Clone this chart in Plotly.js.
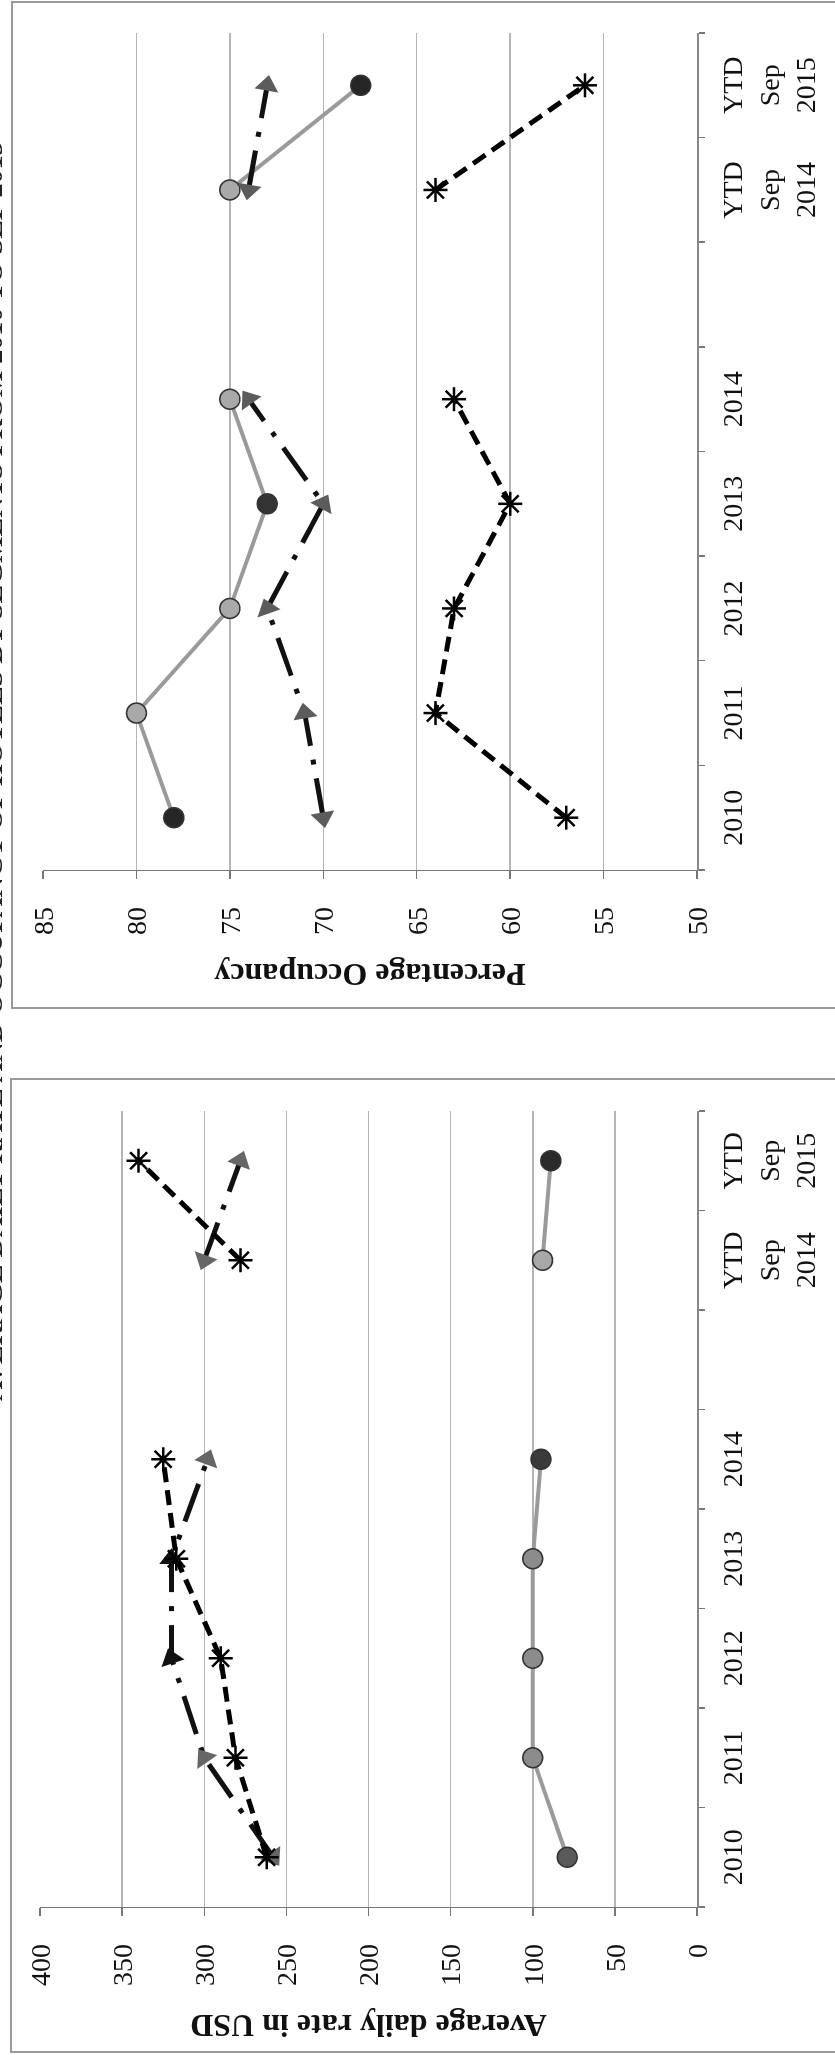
<!DOCTYPE html>
<html>
<head>
<meta charset="utf-8">
<script src="https://cdn.plot.ly/plotly-3.0.1.min.js"></script>
<style>
html,body{margin:0;padding:0;background:#fff;overflow:hidden;width:835px;height:2055px;}
#wrap{position:absolute;left:0;top:0;width:835px;height:2055px;overflow:hidden;background:#fff;}
#chart{position:absolute;left:0;top:0;width:2055px;height:835px;transform-origin:0 0;transform:translateY(2055px) rotate(-90deg);will-change:transform;-webkit-font-smoothing:antialiased;}
</style>
</head>
<body>
<div id="wrap"><div id="chart"></div></div>
<script>
// ---- data ----
const categories = ['2010','2011','2012','2013','2014','gap','YTD Sep 2014','YTD Sep 2015'];
const tickLabels = ['2010','2011','2012','2013','2014','','YTD<br>Sep<br>2014','YTD<br>Sep<br>2015'];

// Average daily rate (USD)
const adrCircle   = [79, 100, 100, 100, 95, null, 94, 89];
const adrTriangle = [258, 300, 320, 320, 298, null, 300, 278];
const adrStar     = [262, 281, 290, 317, 325, null, 278, 340];

// Percentage occupancy
const occCircle   = [78, 80, 75, 73, 75, null, 75, 68];
const occTriangle = [70, 71, 73, 70, 74, null, 74, 73];
const occStar     = [57, 64, 63, 60, 63, null, 64, 56];

const adrTitle = 'Average daily rate in USD';
const occTitle = 'Percentage Occupancy';
const pageTitle = 'AVERAGE DAILY RATE AND OCCUPANCY OF HOTELS BY SEGMENTS FROM 2010 TO SEP 2015';

// ---- styles ----
const adrCircleColors = ['#5a5a5a','#8c8c8c','#8c8c8c','#8c8c8c','#3a3a3a',null,'#a8a8a8','#2a2a2a'];
const occCircleColors = ['#262626','#a9a9a9','#a9a9a9','#333333','#a9a9a9',null,'#a9a9a9','#262626'];
const adrTriColors = ['#666','#666','#111','#111','#666',null,'#666','#666'];
const occTriColors = ['#5c5c5c','#5c5c5c','#5c5c5c','#5c5c5c','#5c5c5c',null,'#5c5c5c','#5c5c5c'];
// arrow heads that start a line segment have no previous point: give them a fixed heading
const segStart = [true, false, false, false, false, false, true, false];
const adrStartAngles = [-125, 0, 0, 0, 0, 0, -70, 0];
const occStartAngles = [-100, 0, 0, 0, 0, 0, -80, 0];

function circleTrace(y, colors, xa, ya){
  return {x: categories, y: y, xaxis: xa, yaxis: ya, type:'scatter', mode:'lines+markers', connectgaps:false,
    line:{color:'#9a9a9a', width:4},
    marker:{symbol:'circle', size:20, color:colors, line:{color:'#333', width:1.5}}};
}
function triTrace(y, colors, xa, ya){
  return {x: categories, y: y, xaxis: xa, yaxis: ya, type:'scatter', mode:'lines+markers', connectgaps:false,
    line:{color:'#111', width:5, dash:'40px,14px,5px,14px'},
    marker:{symbol:'triangle-up', size:21, color:colors, angleref:'previous', line:{width:0}}};
}
function triStartTrace(y, colors, angles, xa, ya){
  return {x: categories, y: y.map((v, i) => segStart[i] ? v : null), xaxis: xa, yaxis: ya,
    type:'scatter', mode:'markers',
    marker:{symbol:'triangle-up', size:21, color:colors, angleref:'up', angle:angles, line:{width:0}}};
}
function starTrace(y, xa, ya){
  return {x: categories, y: y, xaxis: xa, yaxis: ya, type:'scatter', mode:'lines+markers', connectgaps:false,
    line:{color:'#000', width:5, dash:'15px,8px'},
    marker:{symbol:'asterisk-open', size:20, color:'#000', line:{width:2.5, color:'#000'}}};
}

const data = [
  circleTrace(adrCircle, adrCircleColors, 'x', 'y'),
  triTrace(adrTriangle, adrTriColors, 'x', 'y'),
  triStartTrace(adrTriangle, adrTriColors, adrStartAngles, 'x', 'y'),
  starTrace(adrStar, 'x', 'y'),
  circleTrace(occCircle, occCircleColors, 'x2', 'y2'),
  triTrace(occTriangle, occTriColors, 'x2', 'y2'),
  triStartTrace(occTriangle, occTriColors, occStartAngles, 'x2', 'y2'),
  starTrace(occStar, 'x2', 'y2')
];

const W = 2055, H = 835;
const fontFam = 'Liberation Serif, Times New Roman, serif';

function xAxis(domain, anchor){
  return {domain: domain, anchor: anchor, type:'category', categoryorder:'array', categoryarray: categories,
    tickmode:'array', tickvals: categories, ticktext: tickLabels, tickson:'boundaries',
    range:[-0.5, 7.5], ticks:'outside', ticklen:6, tickwidth:1.5, tickcolor:'#777',
    showline:true, linecolor:'#888', linewidth:1.5, showgrid:false, zeroline:false,
    ticklabelstandoff: 10, tickangle:0,
    tickfont:{family:fontFam, size:28, color:'#111'}};
}
function yAxis(domain, anchor, range, dtick, title){
  return {domain: domain, anchor: anchor, range: range, dtick: dtick, tick0: range[0],
    showgrid:true, gridcolor:'#b5b5b5', gridwidth:1.5, zeroline:false,
    showline:true, linecolor:'#777', linewidth:1.5, ticks:'outside', ticklen:8, tickwidth:1.5, tickcolor:'#777',
    ticklabelstandoff: 22,
    tickfont:{family:fontFam, size:28, color:'#111'},
    title:{text:'<b>' + title + '</b>', standoff: 18, font:{family:fontFam, size:32, color:'#111'}}};
}

const layout = {
  width: W, height: H,
  margin:{l:0, r:0, t:0, b:0},
  paper_bgcolor:'#ffffff', plot_bgcolor:'rgba(0,0,0,0)',
  showlegend:false,
  font:{family:fontFam, size:28, color:'#111'},
  xaxis: xAxis([148/W, 944/W], 'y'),
  yaxis: yAxis([138/H, 795/H], 'x', [0, 400], 50, adrTitle),
  xaxis2: xAxis([1185/W, 2022/W], 'y2'),
  yaxis2: yAxis([138/H, 792/H], 'x2', [50, 85], 5, occTitle),
  shapes:[
    {type:'rect', xref:'paper', yref:'paper', x0:3/W, x1:976/W, y0:-0.1, y1:1-11/H, line:{color:'#9a9a9a', width:2}, fillcolor:'rgba(0,0,0,0)'},
    {type:'rect', xref:'paper', yref:'paper', x0:1047/W, x1:2053/W, y0:-0.1, y1:1-12/H, line:{color:'#9a9a9a', width:2}, fillcolor:'rgba(0,0,0,0)'}
  ],
  annotations:[
    {xref:'paper', yref:'paper', x:1283/W, y:1-10/H, xanchor:'center', yanchor:'bottom', showarrow:false,
     text:'<b>' + pageTitle + '</b>', font:{family:fontFam, size:28, color:'#222'}}
  ]
};

Plotly.newPlot('chart', data, layout, {staticPlot:true, displayModeBar:false});
</script>
</body>
</html>
